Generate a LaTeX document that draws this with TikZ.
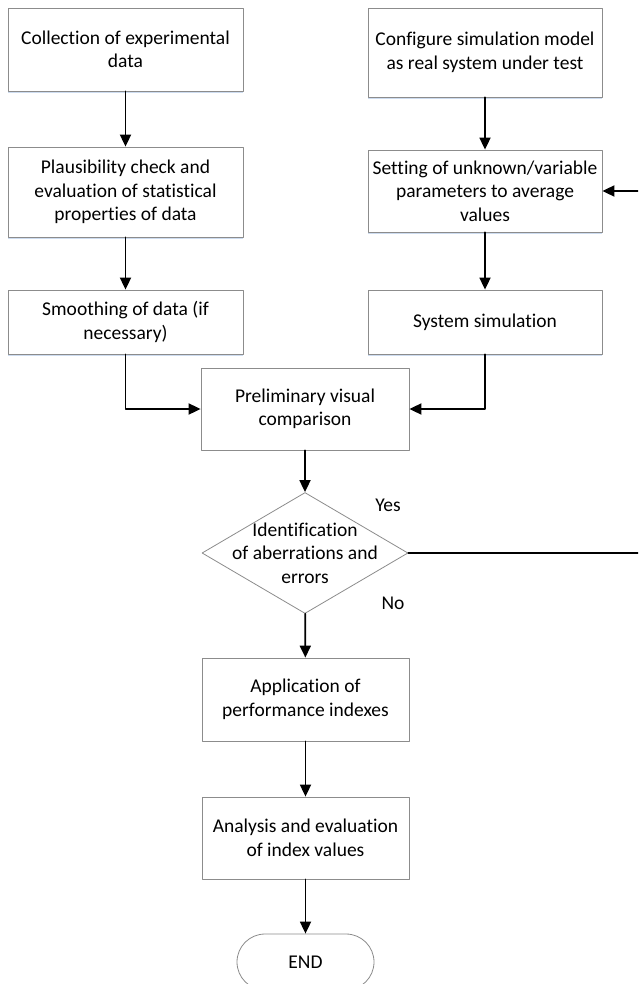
\documentclass[tikz,border=0pt]{standalone}
\usepackage{fontspec}
\setmainfont{Carlito}[Ligatures={NoCommon,NoRare,NoContextual}]
\usetikzlibrary{arrows.meta,shapes.geometric,shapes.misc,shadows}
\definecolor{edgegray}{RGB}{140,140,140}
\definecolor{shadowblue}{RGB}{205,220,240}

\begin{document}
\begin{tikzpicture}[x=1pt,y=1pt, line cap=round, line join=round]

\tikzset{
  txt/.style={font=\fontsize{19.5}{23.5}\selectfont, align=center},
  box/.style={txt, draw=edgegray, fill=white, line width=0.8pt, inner sep=0pt},
  colbox/.style={box, drop shadow={shadow xshift=0pt, shadow yshift=-2pt, fill=shadowblue, opacity=1}},
  decision/.style={diamond, draw=edgegray, fill=white, line width=0.8pt, inner sep=0pt, minimum width=206, minimum height=121},
  arr/.style={-{Triangle[length=12pt,width=11pt]}, line width=1.8pt}
}

\useasboundingbox (0,0) rectangle (638,-984);
\clip (0,0) rectangle (638,-984);

\node[colbox, minimum width=235, minimum height=83] (collect) at (125.5,-49.5) {Collection of experimental\\data};
\node[colbox, minimum width=234, minimum height=89] (config) at (485,-52.5) {Configure simulation model\\as real system under test};

\node[colbox, minimum width=235, minimum height=90] (plaus) at (125.5,-192) {Plausibility check and\\evaluation of statistical\\properties of data};
\node[colbox, minimum width=234, minimum height=82] (setting) at (485,-191) {Setting of unknown/variable\\parameters to average\\values};

\node[colbox, minimum width=235, minimum height=64] (smooth) at (125.5,-322) {Smoothing of data (if\\necessary)};
\node[colbox, minimum width=234, minimum height=64] (sim) at (485,-322) {System simulation};

\node[box, minimum width=208, minimum height=82] (prelim) at (305,-409) {Preliminary visual\\comparison};

\node[decision, label={[txt]center:{Identification\\of aberrations and\\errors}}] (ident) at (305,-553) {};
\node[txt] (yeslab) at (388,-505) {Yes};
\node[txt] (nolab) at (393,-603) {No};

\node[box, minimum width=207, minimum height=83] (app) at (305.5,-699.5) {Application of\\performance indexes};
\node[box, minimum width=207, minimum height=82] (anal) at (305.5,-838) {Analysis and evaluation\\of index values};
\node[box, rounded rectangle, minimum width=137, minimum height=56] (fin) at (305.5,-962) {END};

\coordinate (loop) at (660,-553);

\draw[arr] (collect) -- (plaus);
\draw[arr] (plaus) -- (smooth);
\draw[arr] (config) -- (setting);
\draw[arr] (setting) -- (sim);
\draw[arr] (smooth.south) |- (prelim.west);
\draw[arr] (sim.south) |- (prelim.east);
\draw[arr] (prelim) -- (ident);
\draw[arr] (ident) -- (app);
\draw[arr] (app) -- (anal);
\draw[arr] (anal) -- (fin);
\draw[arr] (ident.east) -- (loop) |- (setting.east);

\end{tikzpicture}
\end{document}
